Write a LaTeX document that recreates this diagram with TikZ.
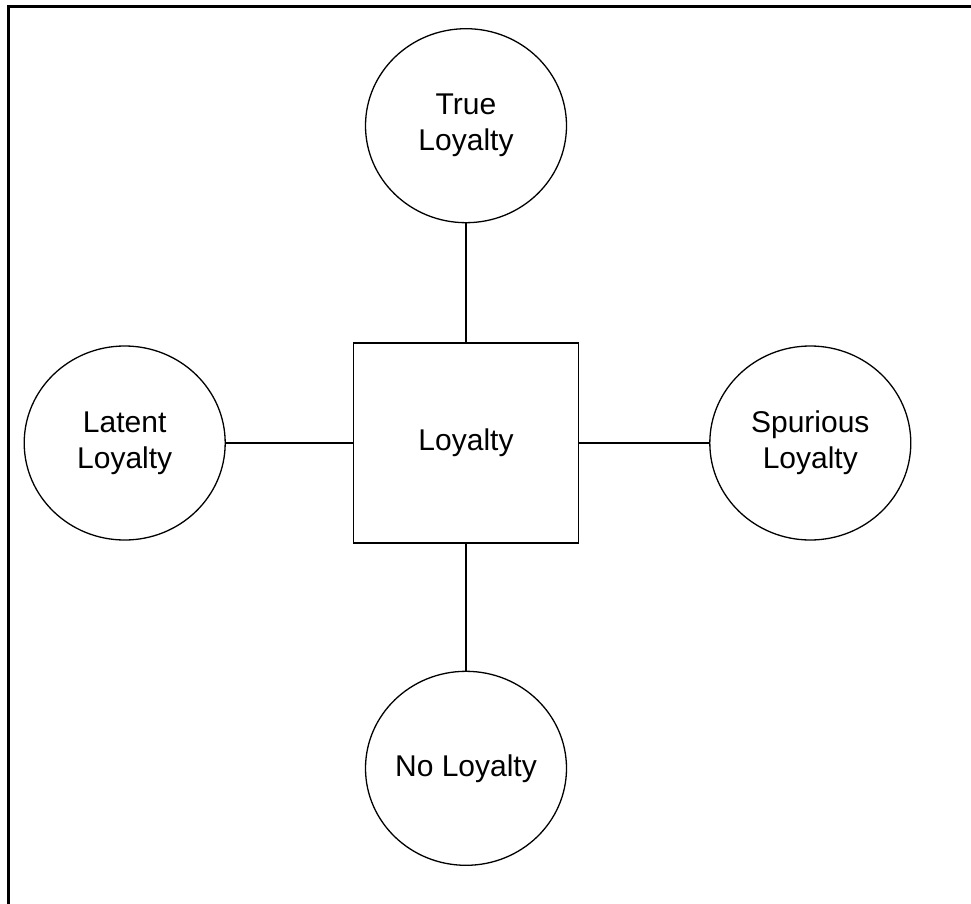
\documentclass[tikz,border=0pt]{standalone}
\usepackage{fontspec}
\setmainfont{Liberation Sans}
\usetikzlibrary{positioning, shapes.geometric}

\begin{document}
\begin{tikzpicture}[
    x=1pt, y=-1pt,
    node distance=120pt,
    core/.style={draw, line width=1.3pt, minimum width=225pt, minimum height=200pt, inner sep=0pt, font=\fontsize{30}{36}\selectfont},
    kind/.style={draw, ellipse, line width=1.3pt, minimum width=201pt, minimum height=194pt, inner sep=0pt, align=center, font=\fontsize{30}{36}\selectfont},
    link/.style={line width=1.3pt}
  ]
  \useasboundingbox (0,0) rectangle (971,904);
  \draw[line width=2.6pt] (8.5,904) -- (8.5,6.5) -- (971,6.5);
  \node[core] (loy) at (466,443) {Loyalty};
  \node[kind, above=119pt of loy] (true) {True\\Loyalty};
  \node[kind, left=127pt of loy] (latent) {Latent\\Loyalty};
  \node[kind, right=130pt of loy] (spur) {Spurious\\Loyalty};
  \node[kind, below=127pt of loy] (none) {No Loyalty};
  \draw[link] (loy) -- (true);
  \draw[link] (loy) -- (latent);
  \draw[link] (loy) -- (spur);
  \draw[link] (loy) -- (none);
\end{tikzpicture}
\end{document}
